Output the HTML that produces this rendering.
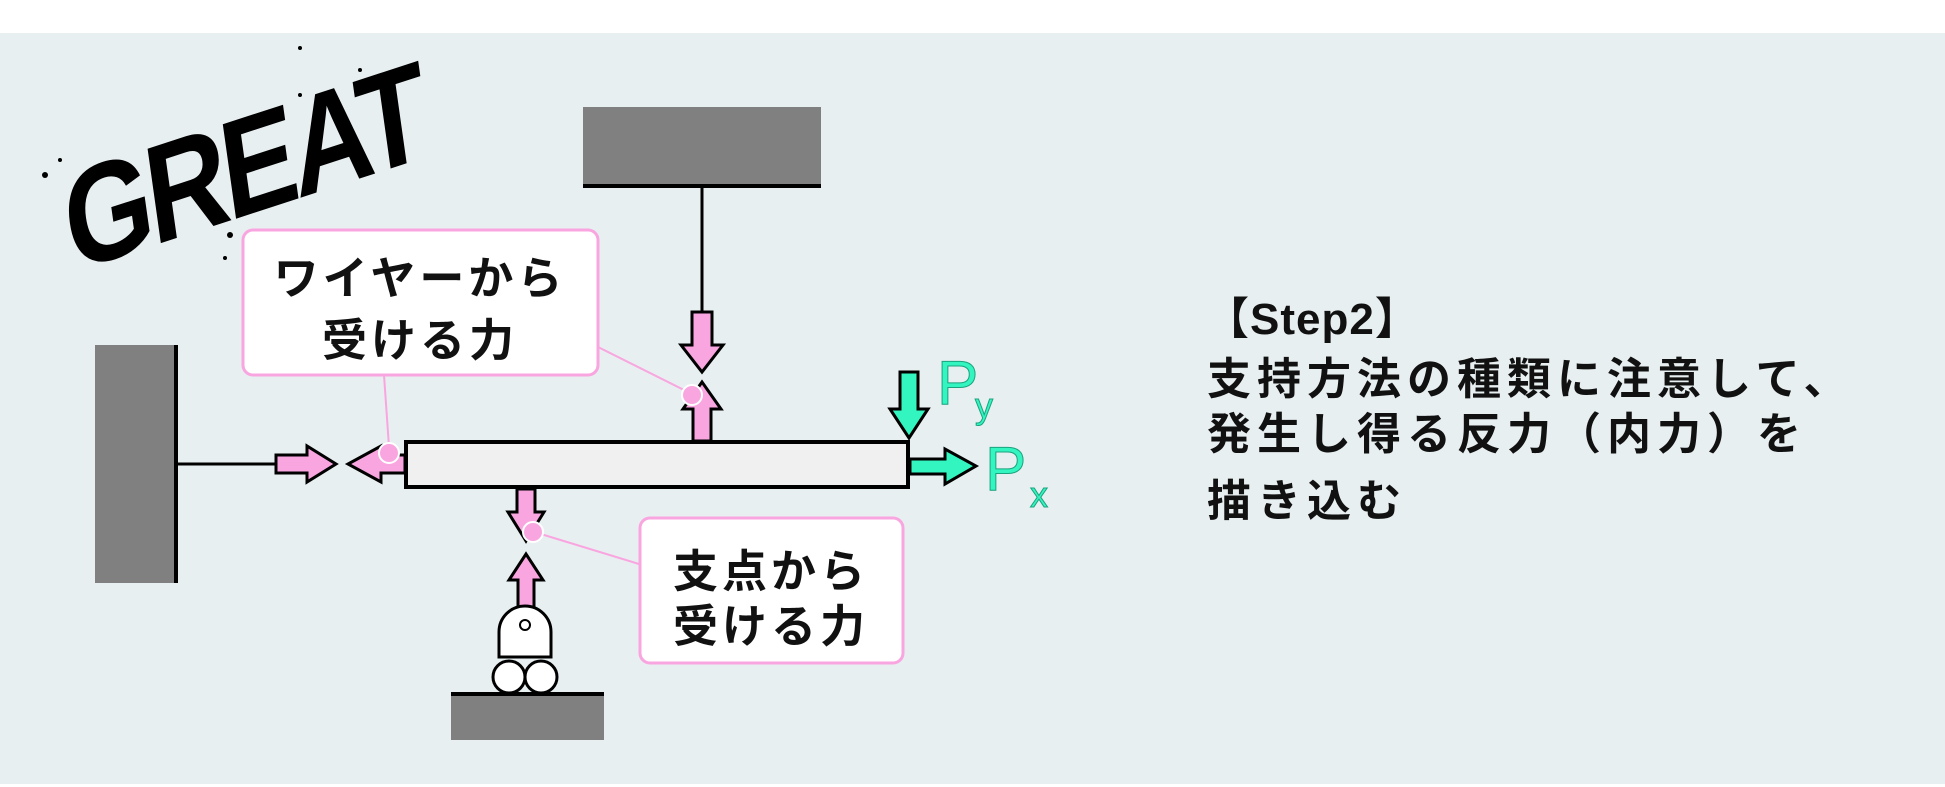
<!DOCTYPE html>
<html><head><meta charset="utf-8"><style>
html,body{margin:0;padding:0;background:#fff;}
svg{display:block;}
.jp{font-family:"Liberation Sans","Noto Sans CJK JP",sans-serif;font-weight:bold;}
</style></head><body>
<svg width="1945" height="787" viewBox="0 0 1945 787" xmlns="http://www.w3.org/2000/svg">
<rect x="0" y="0" width="1945" height="787" fill="#ffffff"/>
<rect x="0" y="33" width="1945" height="751" fill="#e8eff1"/>

<g transform="translate(72,272) rotate(-18) skewX(-10)">
<text x="0" y="0" font-family="Liberation Sans, sans-serif" font-weight="bold" font-size="130" fill="#000" letter-spacing="-6" transform="scale(0.9,1.05)">GREAT</text>
</g>
<g fill="#000">
<circle cx="45" cy="175" r="3"/><circle cx="60" cy="160" r="2"/><circle cx="230" cy="235" r="3"/><circle cx="225" cy="258" r="2"/>
<circle cx="270" cy="120" r="3"/><circle cx="300" cy="95" r="2"/><circle cx="315" cy="140" r="3"/><circle cx="300" cy="48" r="2"/><circle cx="360" cy="70" r="2"/>
</g>

<rect x="583" y="107" width="238" height="79" fill="#808080"/>
<line x1="583" y1="186" x2="821" y2="186" stroke="#000" stroke-width="4"/>
<line x1="702" y1="186" x2="702" y2="312" stroke="#000" stroke-width="3"/>
<polygon points="692,312 712,312 712,345 723,345 702,372 681,345 692,345" fill="#f9a6e0" stroke="#000" stroke-width="3"/>
<polygon points="693,441 711,441 711,409 721,409 702,382 683,409 693,409" fill="#f9a6e0" stroke="#000" stroke-width="3"/>

<rect x="95" y="345" width="81" height="238" fill="#808080"/>
<line x1="176" y1="345" x2="176" y2="583" stroke="#000" stroke-width="4"/>
<line x1="176" y1="464" x2="276" y2="464" stroke="#000" stroke-width="3"/>
<polygon points="276,455 307,455 307,446 336,464 307,482 307,473 276,473" fill="#f9a6e0" stroke="#000" stroke-width="3"/>
<polygon points="405,455 381,455 381,446 348,464 381,482 381,473 405,473" fill="#f9a6e0" stroke="#000" stroke-width="3"/>

<rect x="406" y="442" width="502" height="45" fill="#f0f0f0" stroke="#000" stroke-width="4"/>

<polygon points="517,489 535,489 535,512 544,512 526,541 508,512 517,512" fill="#f9a6e0" stroke="#000" stroke-width="3"/>
<polygon points="518,613 534,613 534,580 543,580 526,554 509,580 518,580" fill="#f9a6e0" stroke="#000" stroke-width="3"/>
<path d="M499,657 L499,632 A26,26 0 0 1 551,632 L551,657 Z" fill="#fff" stroke="#000" stroke-width="3"/>
<circle cx="525" cy="625" r="5" fill="none" stroke="#000" stroke-width="2"/>
<circle cx="509" cy="677" r="16" fill="#fff" stroke="#000" stroke-width="3"/>
<circle cx="541" cy="677" r="16" fill="#fff" stroke="#000" stroke-width="3"/>
<rect x="451" y="694" width="153" height="46" fill="#808080"/>
<line x1="451" y1="694" x2="604" y2="694" stroke="#000" stroke-width="4"/>

<polygon points="900,372 918,372 918,409 928,409 909,438 890,409 900,409" fill="#33f5bf" stroke="#000" stroke-width="3"/>
<polygon points="910,459 945,459 945,449 976,466 945,484 945,474 910,474" fill="#33f5bf" stroke="#000" stroke-width="3"/>
<g font-family="Liberation Sans, sans-serif" fill="#33f5bf" stroke="#1aa37f" stroke-width="1">
<text x="937" y="404" font-size="62">P</text>
<text x="975" y="418" font-size="36">y</text>
<text x="985" y="490" font-size="62">P</text>
<text x="1030" y="507" font-size="36">x</text>
</g>

<g stroke="#f9a6e0" stroke-width="2">
<line x1="598" y1="347" x2="692" y2="394"/>
<line x1="384" y1="375" x2="389" y2="447"/>
<line x1="639" y1="564" x2="531" y2="531"/>
</g>
<g fill="#f9a6e0" stroke="#fff" stroke-width="2">
<circle cx="692" cy="395" r="10"/>
<circle cx="389" cy="453" r="10"/>
<circle cx="533" cy="532" r="10"/>
</g>

<rect x="243" y="230" width="355" height="145" rx="10" fill="#fff" stroke="#f9a6e0" stroke-width="3"/>
<text class="jp" x="420" y="294" font-size="45" letter-spacing="4" text-anchor="middle" fill="#111">ワイヤーから</text>
<text class="jp" x="420" y="356" font-size="45" letter-spacing="4" text-anchor="middle" fill="#111">受ける力</text>
<rect x="640" y="518" width="263" height="145" rx="10" fill="#fff" stroke="#f9a6e0" stroke-width="3"/>
<text class="jp" x="771" y="587" font-size="45" letter-spacing="4" text-anchor="middle" fill="#111">支点から</text>
<text class="jp" x="771" y="642" font-size="45" letter-spacing="4" text-anchor="middle" fill="#111">受ける力</text>

<g class="jp" font-size="44" fill="#111" letter-spacing="6">
<text x="1205" y="334" letter-spacing="1">【Step2】</text>
<text x="1207" y="394">支持方法の種類に注意して、</text>
<text x="1207" y="449">発生し得る反力（内力）を</text>
<text x="1207" y="516">描き込む</text>
</g>
</svg>
</body></html>
